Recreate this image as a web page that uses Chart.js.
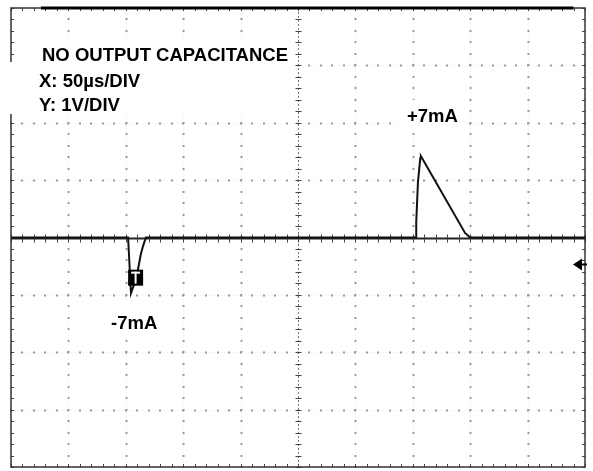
<!DOCTYPE html>
<html lang="en">
<head>
  <meta charset="UTF-8">
  <title>No Output Capacitance</title>
  <script src="https://cdn.jsdelivr.net/npm/chart.js"></script>
  <style>
    body { margin: 0; background: #fff; }
    #wrap { width: 593px; height: 471px; position: relative; }
  </style>
</head>
<body>
  <div id="wrap"><canvas id="scope"></canvas></div>

  <script>
    // trace, in divisions (x: 50us/div, y: 1V/div)
    const traceX = [0, 2.04, 2.09, 2.14, 2.21, 2.26, 2.30, 2.35, 7.06, 7.06, 7.09, 7.13, 7.14, 7.18, 7.91, 8.0, 10];
    const traceY = [0, 0, -0.97, -0.83, -0.57, -0.30, -0.15, 0, 0, 0.27, 0.97, 1.38, 1.42, 1.35, 0.08, 0, 0];
    const xDivs = [0, 1, 2, 3, 4, 5, 6, 7, 8, 9, 10];
    const yDivs = [-4, -3, -2, -1, 0, 1, 2, 3, 4];
    const infoLines = ['NO OUTPUT CAPACITANCE', 'X: 50\u00b5s/DIV', 'Y: 1V/DIV'];
    const peakLabels = ['+7mA', '-7mA'];
    const triggerAt = { x: 2.04, y: -0.70 };
    const groundAt = -0.47;

    const points = traceX.map((x, i) => ({ x: x, y: traceY[i] }));

    const graticule = {
      id: 'graticule',
      beforeDatasetsDraw(chart) {
        const ctx = chart.ctx;
        const xs = chart.scales.x, ys = chart.scales.y;
        const a = chart.chartArea;
        ctx.save();

        // faint grid lines with dots every 1/5 div
        xDivs.forEach(d => {
          if (d === 0 || d === 10 || d === 5) return;
          const px = Math.round(xs.getPixelForValue(d)) + 0.5;
          ctx.strokeStyle = '#ececec';
          ctx.lineWidth = 1;
          ctx.setLineDash([1, 2]);
          ctx.beginPath(); ctx.moveTo(px, a.top); ctx.lineTo(px, a.bottom); ctx.stroke();
          ctx.setLineDash([]);
          ctx.fillStyle = '#9a9a9a';
          for (let v = -4; v <= 4.001; v += 0.2) {
            ctx.fillRect(px - 1, Math.round(ys.getPixelForValue(v)) - 1, 2, 2);
          }
        });
        yDivs.forEach(d => {
          if (d === -4 || d === 4 || d === 0) return;
          const py = Math.round(ys.getPixelForValue(d)) + 0.5;
          ctx.strokeStyle = '#ececec';
          ctx.lineWidth = 1;
          ctx.setLineDash([1, 2]);
          ctx.beginPath(); ctx.moveTo(a.left, py); ctx.lineTo(a.right, py); ctx.stroke();
          ctx.setLineDash([]);
          ctx.fillStyle = '#9a9a9a';
          for (let v = 0; v <= 10.001; v += 0.2) {
            ctx.fillRect(Math.round(xs.getPixelForValue(v)) - 1, py - 1, 2, 2);
          }
        });

        // centre axes with minor ticks
        const cx = Math.round(xs.getPixelForValue(5)) + 0.5;
        const cy = Math.round(ys.getPixelForValue(0)) + 0.5;
        ctx.strokeStyle = '#222';
        ctx.lineWidth = 2;
        ctx.beginPath(); ctx.moveTo(a.left, cy); ctx.lineTo(a.right, cy); ctx.stroke();
        ctx.lineWidth = 1;
        ctx.setLineDash([2, 2]);
        ctx.strokeStyle = '#777';
        ctx.beginPath(); ctx.moveTo(cx, a.top); ctx.lineTo(cx, a.bottom); ctx.stroke();
        ctx.setLineDash([]);
        ctx.strokeStyle = '#444';
        ctx.beginPath();
        for (let v = 0; v <= 10.001; v += 0.2) {
          const px = Math.round(xs.getPixelForValue(v)) + 0.5;
          ctx.moveTo(px, cy - 4); ctx.lineTo(px, cy + 4);
          ctx.moveTo(px, a.top); ctx.lineTo(px, a.top + 3);
          ctx.moveTo(px, a.bottom); ctx.lineTo(px, a.bottom - 3);
        }
        for (let v = -4; v <= 4.001; v += 0.2) {
          const py = Math.round(ys.getPixelForValue(v)) + 0.5;
          ctx.moveTo(cx - 3, py); ctx.lineTo(cx + 3, py);
          ctx.moveTo(a.left, py); ctx.lineTo(a.left + 3, py);
          ctx.moveTo(a.right, py); ctx.lineTo(a.right - 3, py);
        }
        ctx.stroke();

        // frame
        ctx.strokeStyle = '#333';
        ctx.lineWidth = 1.5;
        ctx.strokeRect(a.left, a.top, a.right - a.left, a.bottom - a.top);
        ctx.strokeStyle = '#000';
        ctx.lineWidth = 3;
        ctx.beginPath(); ctx.moveTo(a.left + 30, a.top); ctx.lineTo(xs.getPixelForValue(9.8), a.top); ctx.stroke();

        // white label boxes + text
        ctx.fillStyle = '#fff';
        ctx.fillRect(30, 36, 264, 27);
        ctx.fillRect(0, 62, 294, 52);
        ctx.fillRect(398, 100, 68, 28);
        ctx.fillRect(98, 302, 68, 36);
        ctx.fillStyle = '#000';
        ctx.font = 'bold 18.5px "Liberation Sans", Arial, sans-serif';
        ctx.textBaseline = 'alphabetic';
        ctx.fillText(infoLines[0], 42, 61);
        ctx.fillText(infoLines[1], 39, 87);
        ctx.fillText(infoLines[2], 39, 111);
        ctx.fillText(peakLabels[0], 407, 122);
        ctx.fillText(peakLabels[1], 111, 329);
        ctx.restore();
      },
      afterDatasetsDraw(chart) {
        const ctx = chart.ctx;
        const xs = chart.scales.x, ys = chart.scales.y;
        const a = chart.chartArea;
        ctx.save();
        // trigger marker
        const tx = xs.getPixelForValue(triggerAt.x);
        const ty = ys.getPixelForValue(triggerAt.y);
        ctx.fillStyle = '#000';
        ctx.fillRect(tx, ty - 8, 15, 16);
        ctx.fillStyle = '#fff';
        ctx.fillRect(tx + 3, ty - 6, 9, 2);
        ctx.fillRect(tx + 6.5, ty - 6, 2, 12);
        // ground arrow at right edge
        const gy = ys.getPixelForValue(groundAt);
        ctx.fillStyle = '#000';
        ctx.beginPath();
        ctx.moveTo(a.right - 12, gy);
        ctx.lineTo(a.right - 3, gy - 6);
        ctx.lineTo(a.right - 3, gy + 6);
        ctx.closePath();
        ctx.fill();
        ctx.fillRect(a.right - 4, gy - 1, 6, 2);
        ctx.restore();
      }
    };

    new Chart(document.getElementById('scope'), {
      type: 'line',
      data: {
        datasets: [{
          data: points,
          borderColor: '#111',
          borderWidth: 2,
          pointRadius: 0,
          tension: 0,
          fill: false
        }]
      },
      options: {
        responsive: true,
        maintainAspectRatio: false,
        animation: false,
        layout: { padding: { left: 11, right: 8, top: 8, bottom: 4 } },
        plugins: { legend: { display: false }, tooltip: { enabled: false } },
        scales: {
          x: { type: 'linear', min: 0, max: 10, display: false },
          y: { type: 'linear', min: -4, max: 4, display: false }
        }
      },
      plugins: [graticule]
    });
  </script>
</body>
</html>
